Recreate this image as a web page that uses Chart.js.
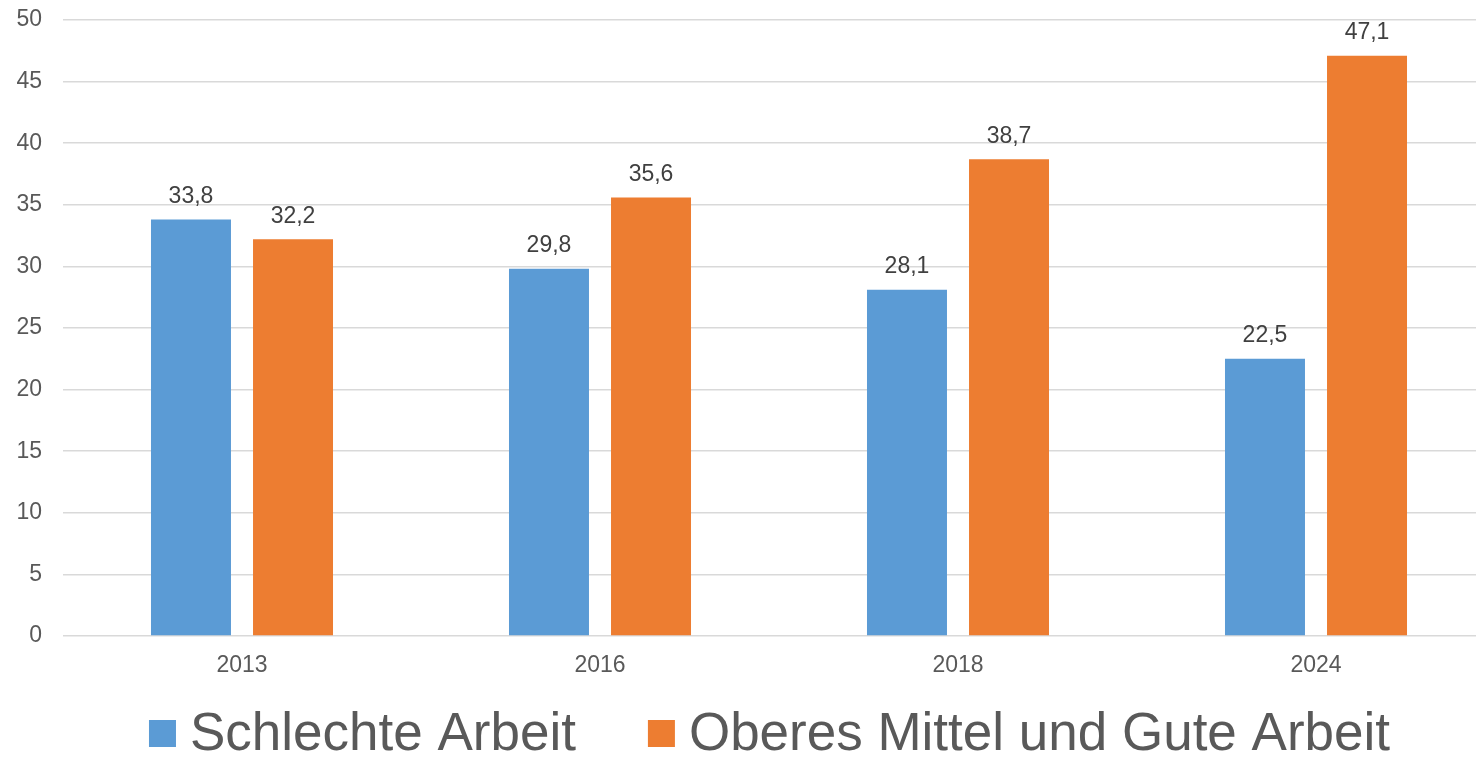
<!DOCTYPE html>
<html lang="de">
<head>
    <meta charset="utf-8">
    <title>Arbeitsqualität</title>
    <script src="https://cdn.jsdelivr.net/npm/chart.js"></script>
    <style>
        body { margin: 0; overflow: hidden; background: #fff; }
        #chart-container { position: relative; width: 1500px; height: 757px; }
    </style>
</head>
<body>
    <div id="chart-container">
        <canvas id="chart"></canvas>
    </div>

    <script>
        // data
        var years = ['2013', '2016', '2018', '2024'];
        var schlechteArbeit = [33.8, 29.8, 28.1, 22.5];
        var guteArbeit = [32.2, 35.6, 38.7, 47.1];
        var seriesNames = ['Schlechte Arbeit', 'Oberes Mittel und Gute Arbeit'];
        var seriesColors = ['#5B9BD5', '#ED7D31'];

        var FONT = '"Liberation Sans", Arial, sans-serif';

        function formatDe(v) {
            return v.toFixed(1).replace('.', ',');
        }

        // value labels above each bar
        var barLabels = {
            id: 'barLabels',
            afterDatasetsDraw: function(chart) {
                var ctx = chart.ctx;
                ctx.save();
                ctx.font = '23px ' + FONT;
                ctx.fillStyle = '#404040';
                ctx.textAlign = 'center';
                ctx.textBaseline = 'middle';
                chart.data.datasets.forEach(function(ds, i) {
                    chart.getDatasetMeta(i).data.forEach(function(bar, j) {
                        ctx.fillText(formatDe(ds.data[j]), bar.x, bar.y - 23);
                    });
                });
                ctx.restore();
            }
        };

        // legend at the bottom, square markers
        var bottomLegend = {
            id: 'bottomLegend',
            afterDraw: function(chart) {
                var ctx = chart.ctx;
                var box = 27, gapText = 14, gapItem = 72, midY = 733.5, centerX = 769.5;
                ctx.save();
                ctx.font = '53px ' + FONT;
                var items = chart.data.datasets.map(function(ds) {
                    return { text: ds.label, color: ds.backgroundColor, w: ctx.measureText(ds.label).width };
                });
                var total = items.reduce(function(s, it) { return s + box + gapText + it.w; }, 0) + gapItem * (items.length - 1);
                var x = centerX - total / 2;
                ctx.textBaseline = 'middle';
                ctx.textAlign = 'left';
                items.forEach(function(it) {
                    ctx.fillStyle = it.color;
                    ctx.fillRect(x, midY - box / 2, box, box);
                    x += box + gapText;
                    ctx.fillStyle = '#595959';
                    ctx.fillText(it.text, x, midY + 2);
                    x += it.w + gapItem;
                });
                ctx.restore();
            }
        };

        var ctx = document.getElementById('chart').getContext('2d');
        var chart = new Chart(ctx, {
            type: 'bar',
            data: {
                labels: years,
                datasets: [{
                    label: seriesNames[0],
                    data: schlechteArbeit,
                    backgroundColor: seriesColors[0]
                }, {
                    label: seriesNames[1],
                    data: guteArbeit,
                    backgroundColor: seriesColors[1]
                }]
            },
            options: {
                responsive: true,
                maintainAspectRatio: false,
                animation: false,
                layout: { padding: { left: 0, right: 5, top: 20, bottom: 78 } },
                datasets: {
                    bar: { categoryPercentage: 0.57, barPercentage: 0.784 }
                },
                plugins: {
                    legend: { display: false },
                    tooltip: { enabled: false }
                },
                scales: {
                    x: {
                        grid: { display: false, drawTicks: false },
                        border: { display: false },
                        ticks: { color: '#595959', font: { family: FONT, size: 23 }, padding: 16 },
                        afterFit: function(scale) { scale.height = 43; }
                    },
                    y: {
                        min: 0,
                        max: 50,
                        ticks: { stepSize: 5, color: '#595959', font: { family: FONT, size: 23 }, padding: 21 },
                        grid: { color: '#D9D9D9', lineWidth: 1.5, drawTicks: false },
                        border: { display: false },
                        afterFit: function(scale) {
                            scale.width = 63;
                            scale.paddingTop = 0;
                            scale.paddingBottom = 0;
                        }
                    }
                }
            },
            plugins: [barLabels, bottomLegend]
        });
    </script>
</body>
</html>
